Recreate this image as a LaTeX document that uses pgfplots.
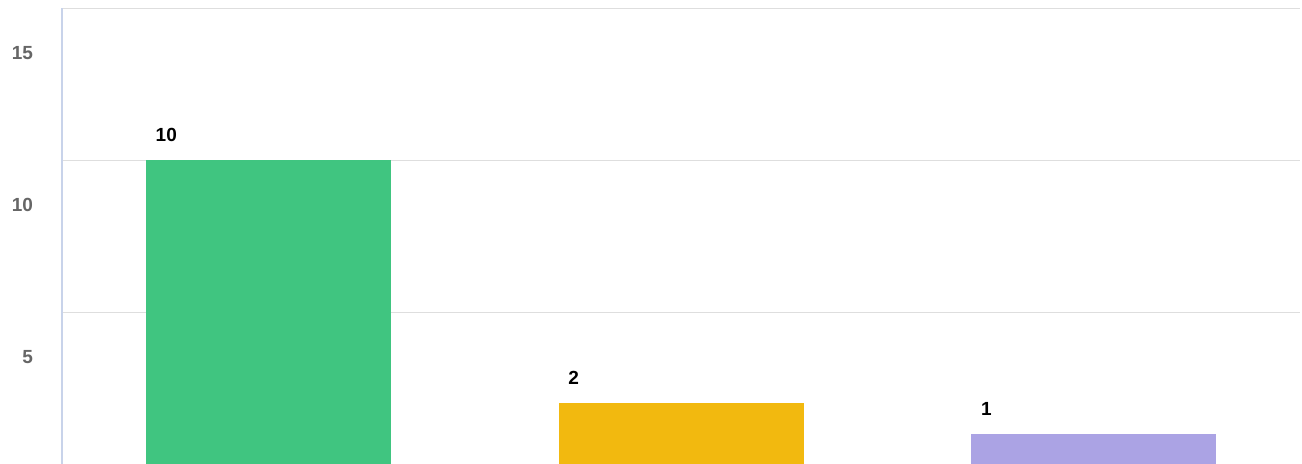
\documentclass[border=0pt]{standalone}
\usepackage{pgfplots}
\pgfplotsset{compat=1.18}
\usepackage{fontspec}
\setmainfont{Liberation Sans}
\definecolor{cgreen}{HTML}{40C580}
\definecolor{cyellow}{HTML}{F2B90F}
\definecolor{cpurple}{HTML}{ABA3E4}
\definecolor{caxis}{HTML}{C8D3EA}
\definecolor{cgrid}{HTML}{DEDEDE}
\definecolor{ctick}{HTML}{666666}
\begin{document}
\begin{tikzpicture}
\begin{axis}[
  scale only axis,
  width=619pt, height=228pt,
  xmin=-0.5, xmax=2.5,
  ymin=0, ymax=15,
  axis x line=none,
  axis y line=left,
  y axis line style={draw=caxis, line width=1pt, -},
  ytick={5,10,15},
  major tick length=0pt,
  ymajorgrids,
  grid style={draw=cgrid, line width=0.5pt},
  yticklabel style={font=\fontsize{9.5}{11}\selectfont\bfseries, text=ctick, anchor=east, xshift=-11pt, yshift=-22.5pt},
  /pgf/number format/assume math mode=true,
  ybar, bar width=122.5pt, bar shift=0pt,
  nodes near coords,
  every node near coord/.style={font=\fontsize{9.5}{11}\selectfont\bfseries, text=black, anchor=west, inner sep=0pt, xshift=-56.5pt, yshift=12.5pt},
  clip=false,
]
\addplot[draw=none, fill=cgreen] coordinates {(0,10)};
\addplot[draw=none, fill=cyellow] coordinates {(1,2)};
\addplot[draw=none, fill=cpurple] coordinates {(2,1)};
\end{axis}
\pgfresetboundingbox
\path[use as bounding box] (-31pt,0.5pt) rectangle (620pt,232pt);
\end{tikzpicture}
\end{document}
